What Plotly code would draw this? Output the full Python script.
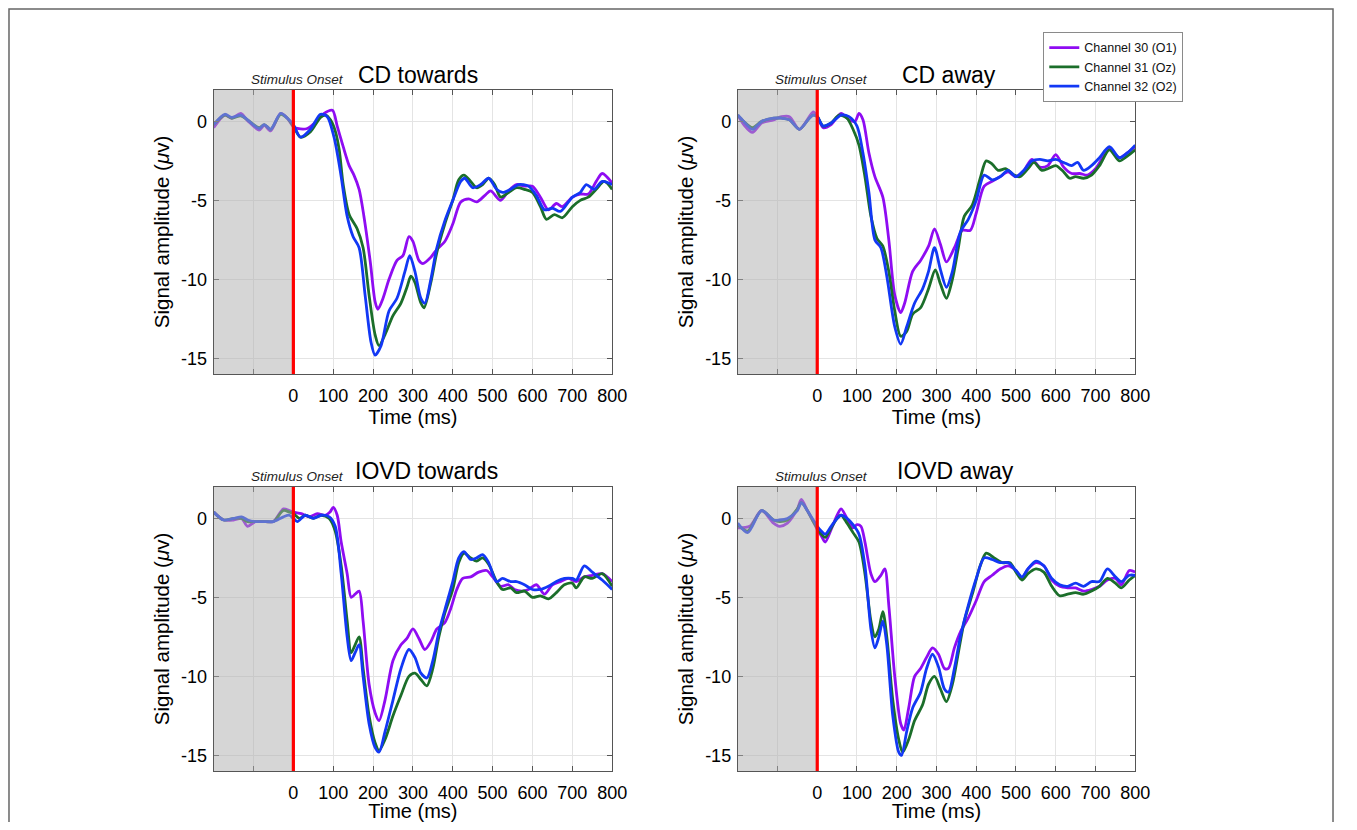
import plotly.graph_objects as go

SCREEN_W, SCREEN_H = 1357, 830
OFF = 8  # the page body adds an 8px margin around the figure
W, H = SCREEN_W - 2 * OFF, SCREEN_H - 2 * OFF

# ---------------- data (time in ms, amplitude in microvolts) ----------------
channel_names = ["Channel 30 (O1)", "Channel 31 (Oz)", "Channel 32 (O2)"]
channel_colors = ["#8f0cf2", "#1b6e2a", "#1238f5"]

panel_titles = ["CD towards", "CD away", "IOVD towards", "IOVD away"]
x_tick_vals = [-100, 0, 100, 200, 300, 400, 500, 600, 700, 800]
x_tick_text = ["", "0", "100", "200", "300", "400", "500", "600", "700", "800"]
y_tick_vals = [-15, -10, -5, 0]
y_tick_text = ["-15", "-10", "-5", "0"]

# CD towards
cdt_t_o1 = [-200,-172,-155,-132,-115,-86,-73,-57,-32,-15,0,10,35,60,77,98,110,125,140,152,165,177,193,205,212,225,240,260,275,290,300,315,325,345,360,380,400,420,440,460,480,495,520,540,560,580,600,620,640,660,675,700,720,740,760,775,800]
cdt_v_o1 = [-0.4,0.4,0.2,0.5,0.05,-0.55,-0.25,-0.6,0.5,0.2,-0.35,-0.45,-0.45,0.05,0.5,0.7,-0.3,-1.6,-2.8,-3.4,-4.3,-6.0,-8.9,-11.4,-11.9,-11.2,-10.0,-8.8,-8.5,-7.3,-7.6,-8.8,-9.0,-8.6,-8.1,-7.6,-6.5,-5.1,-4.9,-5.1,-4.7,-4.4,-5.0,-4.4,-4.0,-4.1,-4.1,-4.8,-5.6,-5.2,-5.4,-4.8,-4.6,-4.6,-3.8,-3.3,-3.9]
cdt_t_oz = [-200,-172,-155,-132,-115,-86,-73,-57,-32,-15,0,18,43,68,81,93,105,115,125,140,160,175,190,205,215,230,250,270,285,295,305,320,328,345,360,380,400,415,428,445,460,475,490,505,520,540,560,580,600,620,635,655,675,700,720,740,760,780,800]
cdt_v_oz = [-0.2,0.4,0.2,0.35,0.1,-0.4,-0.2,-0.5,0.45,0.2,-0.3,-1.0,-0.65,0.25,0.4,0.1,-0.6,-1.8,-4.0,-5.9,-6.8,-8.0,-11.0,-13.5,-14.2,-13.5,-12.3,-11.5,-10.5,-9.8,-10.2,-11.5,-11.8,-10.2,-8.3,-6.5,-5.0,-3.7,-3.4,-3.8,-4.2,-4.0,-3.6,-4.0,-4.8,-4.5,-4.2,-4.3,-4.5,-5.4,-6.2,-5.9,-6.1,-5.4,-5.0,-4.8,-4.3,-3.8,-4.3]
cdt_t_o2 = [-200,-172,-155,-132,-115,-86,-73,-57,-32,-15,0,18,43,68,85,102,110,120,135,150,165,180,195,205,220,240,260,280,292,305,320,330,345,360,380,400,420,430,450,470,490,510,525,545,565,590,610,630,650,670,700,720,735,755,775,800]
cdt_v_o2 = [-0.2,0.45,0.25,0.4,0.1,-0.45,-0.2,-0.5,0.5,0.2,-0.2,-1.0,-0.5,0.45,0.3,-1.0,-2.0,-3.5,-6.0,-7.3,-8.0,-11.0,-14.0,-14.8,-14.2,-12.0,-11.2,-9.5,-8.5,-9.5,-11.2,-11.5,-10.0,-8.0,-6.3,-5.0,-3.8,-3.6,-4.2,-4.0,-3.6,-4.3,-4.5,-4.3,-4.0,-4.1,-4.7,-5.6,-5.5,-5.7,-4.8,-4.5,-4.0,-4.3,-3.8,-4.0]

# CD away
cda_t_o1 = [-200,-185,-163,-140,-110,-90,-70,-45,-20,-10,0,15,35,60,80,95,105,115,130,145,165,180,195,210,220,240,260,280,295,310,325,345,365,385,400,420,440,460,480,500,520,540,560,580,600,620,640,660,680,700,720,735,760,780,800]
cda_v_o1 = [0.4,-0.2,-0.7,-0.1,0.1,0.3,0.3,-0.5,0.3,0.6,0.3,-0.4,-0.2,0.5,0.1,0.0,0.5,0.1,-2.0,-3.5,-4.8,-7.5,-11.0,-12.1,-11.5,-9.5,-8.8,-7.9,-6.8,-7.8,-8.9,-8.0,-6.9,-6.9,-5.8,-4.1,-3.8,-3.5,-3.2,-3.5,-3.1,-2.4,-2.9,-2.8,-2.1,-2.9,-3.3,-3.3,-3.4,-3.0,-2.2,-1.7,-2.3,-2.0,-1.6]
cda_t_oz = [-200,-185,-163,-140,-110,-90,-70,-45,-20,-10,0,15,35,55,75,90,105,120,135,150,165,180,195,210,225,240,260,280,297,310,325,340,355,370,390,410,425,440,455,475,495,510,530,545,565,580,600,620,635,650,670,690,710,735,760,780,800]
cda_v_oz = [0.4,0.0,-0.4,0.0,0.2,0.2,0.1,-0.5,0.2,0.4,0.3,-0.3,-0.1,0.4,0.2,-0.5,-1.5,-3.5,-6.0,-7.4,-7.9,-9.5,-12.0,-13.6,-13.3,-12.2,-11.8,-10.6,-9.4,-10.3,-11.2,-10.0,-8.0,-6.0,-5.3,-3.6,-2.5,-2.7,-3.1,-3.0,-3.4,-3.5,-3.0,-2.6,-3.1,-3.0,-2.8,-3.2,-3.6,-3.5,-3.6,-3.4,-2.8,-1.8,-2.5,-2.2,-1.8]
cda_t_o2 = [-200,-185,-163,-140,-110,-90,-70,-45,-20,-10,0,15,35,60,80,100,115,130,145,160,175,195,210,225,245,265,280,295,310,325,340,360,380,400,420,440,460,480,500,520,540,560,580,600,620,640,655,670,690,710,735,760,780,800]
cda_v_o2 = [0.4,0.0,-0.5,0.0,0.2,0.2,0.1,-0.5,0.2,0.4,0.3,-0.3,-0.1,0.4,0.3,-0.3,-2.0,-4.5,-7.5,-8.0,-9.8,-13.0,-14.1,-13.0,-11.5,-10.6,-9.5,-8.0,-9.4,-10.5,-9.5,-7.0,-6.2,-5.0,-3.4,-3.7,-3.5,-3.1,-3.5,-3.1,-2.5,-2.4,-2.5,-2.4,-2.6,-2.8,-2.6,-3.1,-2.8,-2.3,-1.6,-2.3,-2.0,-1.5]

# IOVD towards
iot_t_o1 = [-200,-175,-150,-130,-115,-95,-70,-50,-25,-10,0,20,40,60,80,92,100,110,120,135,145,155,165,175,190,205,215,230,250,270,285,300,315,330,345,360,380,395,410,425,445,465,485,500,520,540,555,575,590,610,630,650,670,690,710,730,750,775,800]
iot_v_o1 = [0.4,-0.1,-0.1,0.0,-0.5,-0.2,-0.2,-0.2,0.6,0.5,0.4,0.3,0.1,0.3,0.2,0.4,0.7,0.2,-1.5,-3.5,-5.0,-4.8,-4.6,-6.5,-10.5,-12.3,-12.8,-11.5,-9.0,-8.0,-7.6,-7.0,-7.6,-8.3,-7.8,-7.0,-6.6,-5.7,-4.5,-3.8,-3.7,-3.4,-3.3,-3.7,-4.3,-4.2,-4.5,-4.6,-4.5,-4.2,-4.8,-4.2,-4.0,-3.8,-4.0,-3.7,-3.6,-3.5,-4.0]
iot_t_oz = [-200,-175,-150,-130,-115,-95,-70,-50,-25,-10,0,15,30,50,70,90,105,120,135,145,155,165,175,190,205,215,230,250,270,290,305,320,335,350,365,380,400,415,428,445,460,475,490,510,525,545,560,580,600,620,640,660,680,700,710,730,750,775,800]
iot_v_oz = [0.4,-0.1,0.0,0.0,-0.2,-0.2,-0.2,-0.2,0.5,0.4,0.3,0.0,0.2,0.0,0.2,0.0,-0.8,-3.0,-6.5,-8.5,-8.0,-7.5,-9.5,-12.5,-14.2,-14.7,-14.0,-12.5,-11.2,-10.0,-9.8,-10.2,-10.6,-9.5,-7.5,-6.0,-4.5,-2.8,-2.2,-2.5,-2.7,-2.5,-2.9,-4.0,-4.5,-4.4,-4.7,-4.6,-5.0,-4.9,-5.1,-4.7,-4.2,-4.1,-4.4,-3.7,-3.8,-3.5,-4.3]
iot_t_o2 = [-200,-175,-150,-130,-115,-95,-70,-50,-25,-10,0,10,30,50,70,90,105,120,135,145,155,165,175,190,205,215,230,250,270,290,305,320,335,350,365,380,400,415,428,445,460,475,490,510,525,545,560,580,600,620,640,660,680,700,710,730,750,775,800]
iot_v_o2 = [0.4,-0.1,0.0,0.1,-0.1,-0.2,-0.2,-0.2,0.1,0.2,0.0,-0.2,0.2,0.0,0.2,0.1,-0.5,-3.5,-7.5,-9.0,-8.5,-8.0,-10.0,-13.0,-14.5,-14.8,-13.5,-11.5,-9.5,-8.3,-8.8,-9.8,-10.1,-9.0,-7.2,-5.8,-4.0,-2.5,-2.1,-2.6,-2.5,-2.3,-2.8,-4.0,-3.8,-4.0,-4.0,-4.2,-4.5,-4.5,-4.3,-4.0,-3.8,-3.8,-3.9,-3.0,-3.4,-3.9,-4.5]

# IOVD away
ioa_t_o1 = [-200,-170,-140,-110,-95,-75,-50,-40,-25,-10,0,10,20,35,50,60,75,90,100,110,120,135,145,160,170,180,195,210,218,230,245,260,275,290,305,320,330,345,360,380,400,420,440,460,480,500,515,530,550,570,590,610,630,650,670,690,710,730,750,765,785,800]
ioa_v_o1 = [-0.6,-0.5,0.5,-0.3,-0.5,-0.3,0.6,1.2,0.5,-0.2,-0.7,-1.1,-1.5,-0.7,0.2,0.6,0.0,-0.6,-0.4,-0.5,-1.5,-3.5,-4.0,-3.6,-3.2,-5.5,-10.0,-13.0,-13.4,-12.0,-10.0,-9.5,-8.8,-8.2,-8.6,-9.5,-9.5,-8.2,-7.2,-6.3,-5.2,-4.0,-3.6,-3.2,-3.0,-3.3,-3.8,-3.2,-2.8,-3.0,-3.9,-4.3,-4.4,-4.4,-4.6,-4.5,-4.3,-3.9,-3.8,-4.2,-3.3,-3.4]
ioa_t_oz = [-200,-175,-140,-110,-95,-75,-50,-40,-25,-10,0,10,20,35,50,60,75,90,105,120,135,145,155,165,175,190,205,215,230,245,265,280,295,310,325,340,355,370,390,410,425,445,465,485,500,515,530,550,570,590,610,630,650,670,690,710,730,750,765,785,800]
ioa_v_oz = [-0.4,-0.8,0.5,-0.1,-0.2,-0.1,0.6,1.0,0.5,-0.2,-0.6,-1.0,-1.2,-0.6,0.0,0.2,-0.3,-0.9,-1.5,-3.5,-6.5,-7.5,-7.0,-5.9,-7.5,-11.5,-14.0,-14.8,-14.0,-12.8,-11.8,-10.5,-10.0,-10.8,-11.6,-10.5,-8.5,-6.5,-4.8,-3.0,-2.2,-2.5,-2.8,-2.8,-3.4,-3.9,-3.5,-3.2,-3.4,-4.3,-4.9,-4.8,-4.7,-4.8,-4.6,-4.3,-3.8,-4.1,-4.4,-3.9,-3.6]
ioa_t_o2 = [-200,-175,-140,-110,-95,-75,-50,-40,-25,-10,0,10,20,35,50,60,75,90,105,120,135,145,155,165,175,190,205,212,225,240,260,275,290,305,320,330,345,360,380,400,420,440,460,480,500,515,530,550,570,590,610,630,650,670,690,710,730,750,765,785,800]
ioa_v_o2 = [-0.3,-0.9,0.5,-0.1,-0.1,0.0,0.5,1.0,0.5,-0.1,-0.5,-0.8,-1.0,-0.5,0.0,0.2,0.0,-0.4,-1.0,-3.0,-7.0,-8.2,-7.5,-6.5,-8.0,-12.5,-14.8,-15.0,-13.5,-12.0,-11.0,-9.5,-8.6,-9.4,-10.8,-11.0,-9.5,-7.5,-5.5,-3.8,-2.5,-2.6,-2.8,-2.8,-3.3,-3.7,-3.2,-2.7,-3.0,-3.8,-4.2,-4.3,-4.1,-4.3,-4.0,-4.0,-3.2,-3.7,-4.0,-3.6,-3.6]

panel_series = [
    [(cdt_t_o1, cdt_v_o1), (cdt_t_oz, cdt_v_oz), (cdt_t_o2, cdt_v_o2)],
    [(cda_t_o1, cda_v_o1), (cda_t_oz, cda_v_oz), (cda_t_o2, cda_v_o2)],
    [(iot_t_o1, iot_v_o1), (iot_t_oz, iot_v_oz), (iot_t_o2, iot_v_o2)],
    [(ioa_t_o1, ioa_v_o1), (ioa_t_oz, ioa_v_oz), (ioa_t_o2, ioa_v_o2)],
]

baseline_start, onset = -200, 0
x_range = [-200, 800]
y_range = [-16, 2]

# ---------------- layout geometry (screen pixels) ----------------
panel_px = [  # left, right, top, bottom
    (216, 619, 90, 375),
    (746, 1148, 90, 375),
    (216, 619, 488, 773),
    (746, 1148, 488, 773),
]
title_cx = [423, 960, 431, 966]
title_cy = [75, 75, 472, 472]


def px_x(v):
    return (v - OFF) / W


def px_y(v):
    return 1 - (v - OFF) / H


FONT = "Liberation Sans, Arial, Helvetica, sans-serif"
AXC = "#555555"

fig = go.Figure()
layout = dict(
    width=W, height=H,
    margin=dict(l=0, r=0, t=0, b=0),
    paper_bgcolor="white", plot_bgcolor="white",
    font=dict(family=FONT, color="black"),
    showlegend=True,
    legend=dict(
        x=px_x(1055), y=px_y(32), xanchor="left", yanchor="top",
        bgcolor="white", bordercolor="#8a8a8a", borderwidth=1,
        font=dict(size=12.5, family=FONT, color="#111"),
        itemwidth=30, tracegroupgap=0,
    ),
)
shapes, annotations = [], []

for i in range(4):
    l, r, t, b = panel_px[i]
    xa = "xaxis" if i == 0 else f"xaxis{i+1}"
    ya = "yaxis" if i == 0 else f"yaxis{i+1}"
    xr = "x" if i == 0 else f"x{i+1}"
    yr = "y" if i == 0 else f"y{i+1}"
    layout[xa] = dict(
        domain=[px_x(l), px_x(r)], anchor=yr, range=x_range,
        tickmode="array", tickvals=x_tick_vals, ticktext=x_tick_text,
        showgrid=True, gridcolor="#e4e4e4", gridwidth=1, zeroline=False,
        showline=True, linecolor=AXC, linewidth=1, mirror="allticks",
        ticks="inside", ticklen=5, tickcolor=AXC, ticklabelstandoff=5,
        tickfont=dict(size=18, color="black"),
        title=dict(text="Time (ms)", font=dict(size=20, color="black"), standoff=5),
    )
    layout[ya] = dict(
        domain=[px_y(b), px_y(t)], anchor=xr, range=y_range,
        tickmode="array", tickvals=y_tick_vals, ticktext=y_tick_text,
        showgrid=True, gridcolor="#e4e4e4", gridwidth=1, zeroline=False,
        showline=True, linecolor=AXC, linewidth=1, mirror="allticks",
        ticks="inside", ticklen=5, tickcolor=AXC, ticklabelstandoff=2,
        tickfont=dict(size=18, color="black"),
        title=dict(text="Signal amplitude (<i>μ</i>v)", font=dict(size=20.5, color="black"), standoff=5),
    )
    for c, (tt, vv) in enumerate(panel_series[i]):
        fig.add_trace(go.Scatter(
            x=tt, y=vv, mode="lines", name=channel_names[c],
            line=dict(color=channel_colors[c], width=2.8, shape="spline", smoothing=0.8),
            xaxis=xr, yaxis=yr, showlegend=(i == 0), legendgroup=channel_names[c],
        ))
    # baseline shading (semi-transparent, above the traces)
    shapes.append(dict(type="rect", xref=xr, yref=yr, x0=baseline_start, x1=onset,
                       y0=y_range[0], y1=y_range[1], fillcolor="#aeaeae", opacity=0.5,
                       line=dict(width=0), layer="above"))
    # stimulus onset line
    shapes.append(dict(type="line", xref=xr, yref=yr, x0=onset, x1=onset,
                       y0=y_range[0], y1=y_range[1], line=dict(color="#ff0000", width=3.2),
                       layer="above"))
    annotations.append(dict(text="<i>Stimulus Onset</i>", xref=xr, x=onset, xshift=4,
                            yref="paper", y=px_y(t), yanchor="bottom", yshift=1,
                            showarrow=False, font=dict(size=13.5, color="#222")))
    annotations.append(dict(text=panel_titles[i], xref="paper", x=px_x(title_cx[i]),
                            yref="paper", y=px_y(title_cy[i]), xanchor="center", yanchor="middle",
                            showarrow=False, font=dict(size=23, color="black")))

# outer frame of the figure (left, top and right edges; bottom lies outside the view)
fx0, fx1, fy1 = 1 / W, 1 - 1 / W, 1 - 1 / H
shapes.append(dict(type="path", xref="paper", yref="paper",
                   path=f"M {fx0} -0.05 L {fx0} {fy1} L {fx1} {fy1} L {fx1} -0.05",
                   line=dict(color="#666666", width=1.5), layer="below"))

layout["shapes"] = shapes
layout["annotations"] = annotations
fig.update_layout(**layout)
fig.write_html("out.html")
